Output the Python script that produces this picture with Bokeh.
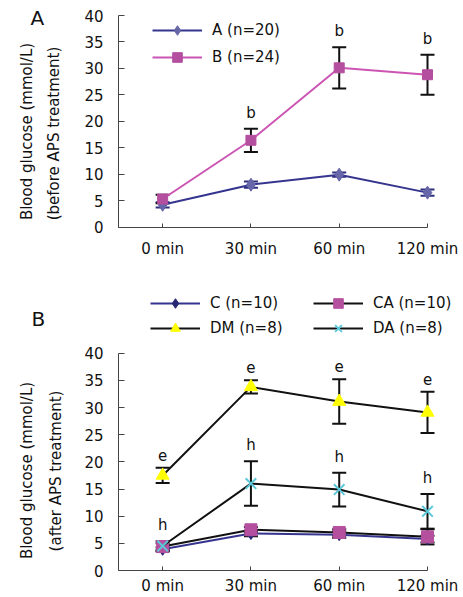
from bokeh.plotting import figure
from bokeh.layouts import column
from bokeh.models import (Range1d, FixedTicker, Whisker, TeeHead, ColumnDataSource,
                          Legend, LegendItem, Label, LinearAxis)
from bokeh.embed import file_html
from bokeh.resources import INLINE
from bokeh.core.properties import value

# ---------------- data ----------------
minutes = ["0 min", "30 min", "60 min", "120 min"]
y_ticks = [0, 5, 10, 15, 20, 25, 30, 35, 40]

# Panel A (before APS treatment)
a_mean = [4.2, 8.0, 9.9, 6.5]
a_sd = [0.5, 0.6, 0.4, 0.6]
b_mean = [5.3, 16.4, 30.1, 28.8]
b_sd = [0.8, 2.2, 3.9, 3.8]
b_sig = ["", "b", "b", "b"]

# Panel B (after APS treatment)
c_mean = [3.9, 6.8, 6.6, 5.8]
c_sd = [0.4, 0.5, 0.6, 0.6]
ca_mean = [4.4, 7.5, 7.0, 6.2]
ca_sd = [0.6, 0.5, 0.6, 1.4]
dm_mean = [17.5, 33.8, 31.1, 29.1]
dm_sd = [1.4, 1.2, 4.1, 3.8]
dm_sig = ["e", "e", "e", "e"]
da_mean = [4.5, 16.0, 14.9, 10.9]
da_sd = [0.9, 4.1, 3.1, 3.2]
da_sig = ["h", "h", "h", "h"]

# ---------------- layout / style ----------------
FONT = "DejaVu Sans"
AX = "#444444"
TXT = "#111111"
W = 463
xs = list(range(len(minutes)))
X_AX = -0.5                 # where the y axis sits (half a category left of the first)
X_LAST = xs[-1]
Y_MIN, Y_MAX = y_ticks[0], y_ticks[-1]
# pixel anchors of the axes on each canvas
AXIS_LEFT_PX, LAST_TICK_PX = 118, 427
GH = 24                     # legend row height


def make_fig(height, top_px, bottom_px, standoff):
    ppx = (LAST_TICK_PX - AXIS_LEFT_PX) / (X_LAST - X_AX)
    x0 = X_AX - AXIS_LEFT_PX / ppx
    x1 = X_LAST + (W - LAST_TICK_PX) / ppx
    ppy = (bottom_px - top_px) / (Y_MAX - Y_MIN)
    y1 = Y_MAX + top_px / ppy
    y0 = Y_MIN - (height - bottom_px) / ppy
    p = figure(width=W, height=height, output_backend="svg", toolbar_location=None,
               x_range=Range1d(x0, x1), y_range=Range1d(y0, y1),
               x_axis_location=None, y_axis_location=None, min_border=0)
    p.outline_line_color = None
    p.grid.visible = False
    p.background_fill_color = "white"
    p.border_fill_color = "white"
    xa = LinearAxis(fixed_location=Y_MIN, bounds=(X_AX, X_LAST),
                    ticker=FixedTicker(ticks=xs),
                    major_label_overrides={i: m for i, m in enumerate(minutes)})
    xa.axis_line_color = AX
    xa.major_tick_in = 4
    xa.major_tick_out = 0
    xa.minor_tick_line_color = None
    xa.major_tick_line_color = AX
    xa.major_label_text_font = FONT
    xa.major_label_text_font_size = "15px"
    xa.major_label_text_color = TXT
    xa.major_label_standoff = standoff
    p.add_layout(xa, "below")
    ya = LinearAxis(fixed_location=X_AX, bounds=(Y_MIN, Y_MAX),
                    ticker=FixedTicker(ticks=y_ticks))
    ya.axis_line_color = AX
    ya.major_tick_in = 6
    ya.major_tick_out = 0
    ya.minor_tick_line_color = None
    ya.major_tick_line_color = AX
    ya.major_label_text_font = FONT
    ya.major_label_text_font_size = "15px"
    ya.major_label_text_color = TXT
    ya.major_label_standoff = 15
    p.add_layout(ya, "left")
    return p


def errbars(p, mean, sd, color):
    src = ColumnDataSource(dict(x=xs, lower=[m - s for m, s in zip(mean, sd)],
                                upper=[m + s for m, s in zip(mean, sd)]))
    p.add_layout(Whisker(source=src, base="x", lower="lower", upper="upper",
                         line_color=color, line_width=2,
                         upper_head=TeeHead(size=14, line_color=color, line_width=2),
                         lower_head=TeeHead(size=14, line_color=color, line_width=2)))


def sig_text(p, mean, sd, sig):
    p.text(x=xs, y=[m + s for m, s in zip(mean, sd)], text=sig,
           text_align="center", text_baseline="bottom", y_offset=-7,
           text_font=value(FONT), text_font_size="15px", text_color=TXT)


def label(p, H, text, px, py, size="15px", angle=0, align="center"):
    # px, py: canvas pixels from the top-left corner
    p.add_layout(Label(x=px, y=H - py, x_units="screen", y_units="screen", text=text,
                       angle=angle, angle_units="deg", text_align=align,
                       text_baseline="middle", text_font=FONT,
                       text_font_size=size, text_color=TXT))


def legend(H, items, left_px, first_row_px, row_step):
    n = len(items)
    spacing = row_step - GH
    height = n * GH + (n - 1) * spacing
    top_px = first_row_px - GH / 2
    return Legend(items=items, location=(left_px, H - top_px - height),
                  glyph_width=50, glyph_height=GH, label_height=GH, label_standoff=10,
                  spacing=spacing, padding=0, margin=0, border_line_color=None,
                  background_fill_alpha=0, label_text_font=FONT,
                  label_text_font_size="15px", label_text_color=TXT)


# ---------------- panel A ----------------
HA = 262
pa = make_fig(HA, 15, 226.5, 13)
errbars(pa, a_mean, a_sd, "#2E2E80")
errbars(pa, b_mean, b_sd, TXT)
la = pa.line(xs, a_mean, line_color="#35358F", line_width=2)
sa = pa.scatter(xs, a_mean, marker="diamond", size=13, fill_color="#6666A8",
                line_color="#6666A8")
lb = pa.line(xs, b_mean, line_color="#CC55B4", line_width=2)
sb = pa.scatter(xs, b_mean, marker="square", size=10, fill_color="#B44E9E",
                line_color="#B44E9E")
sig_text(pa, b_mean, b_sd, b_sig)
pa.add_layout(legend(HA, [LegendItem(label="A (n=20)", renderers=[la, sa]),
                          LegendItem(label="B (n=24)", renderers=[lb, sb])],
                     152, 30, 27))
label(pa, HA, "Blood glucose (mmol/L)", 26.5, 131, angle=90)
label(pa, HA, "(before APS treatment)", 53.5, 133, angle=90)
label(pa, HA, "A", 30, 17.5, size="20px", align="left")

# ---------------- panel B ----------------
HB = 335
pb = make_fig(HB, 90.7, 308, 6)
for m, s in [(c_mean, c_sd), (ca_mean, ca_sd), (dm_mean, dm_sd), (da_mean, da_sd)]:
    errbars(pb, m, s, TXT)
lc = pb.line(xs, c_mean, line_color="#35358F", line_width=2)
sc = pb.scatter(xs, c_mean, marker="diamond", size=12, fill_color="#262673",
                line_color="#262673")
lca = pb.line(xs, ca_mean, line_color=TXT, line_width=2)
sca = pb.scatter(xs, ca_mean, marker="square", size=12, fill_color="#B5509F",
                 line_color="#B5509F")
ldm = pb.line(xs, dm_mean, line_color=TXT, line_width=2)
sdm = pb.scatter(xs, dm_mean, marker="triangle", size=13, fill_color="#FFFF00",
                 line_color="#FFFF00")
lda = pb.line(xs, da_mean, line_color=TXT, line_width=2)
sda = pb.scatter(xs, da_mean, marker="x", size=15, line_color="#5CC9D9",
                 line_width=2)
sig_text(pb, dm_mean, dm_sd, dm_sig)
sig_text(pb, da_mean, da_sd, da_sig)
pb.add_layout(legend(HB, [LegendItem(label="C (n=10)", renderers=[lc, sc]),
                          LegendItem(label="DM (n=8)", renderers=[ldm, sdm])],
                     150, 41, 25))
pb.add_layout(legend(HB, [LegendItem(label="CA (n=10)", renderers=[lca, sca]),
                          LegendItem(label="DA (n=8)", renderers=[lda, sda])],
                     313, 41, 25))
label(pb, HB, "Blood glucose (mmol/L)", 26, 208, angle=90)
label(pb, HB, "(after APS treatment)", 55, 208.5, angle=90)
label(pb, HB, "B", 31, 56.5, size="20px", align="left")

layout = column(pa, pb, spacing=0)
open("out.html", "w").write(file_html(layout, INLINE))
